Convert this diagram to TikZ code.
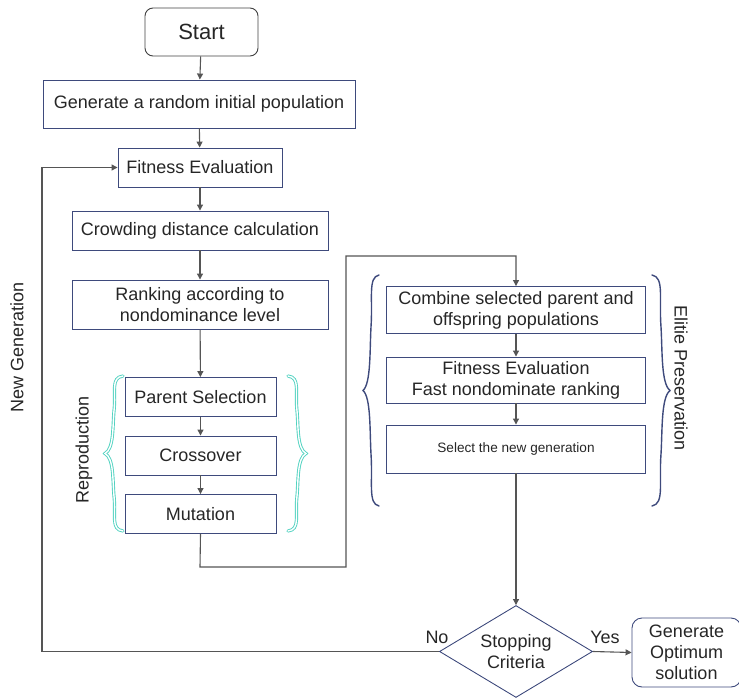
\documentclass[tikz,border=0pt]{standalone}
\usepackage{fontspec}
\setmainfont{Liberation Sans}
\usetikzlibrary{shapes.geometric,arrows.meta}
\definecolor{boxc}{HTML}{3E4A7C}
\definecolor{linec}{HTML}{555555}
\definecolor{tealc}{HTML}{4FD2C0}
\definecolor{bracec}{HTML}{3E4A7C}
% #1 style, #2 end x, #3 tip x, #4 top y, #5 bottom y
\newcommand{\curlybr}[5]{%
  \pgfmathsetmacro\cbd{#2-(#3)}%
  \pgfmathsetmacro\cbm{#3+\cbd/2}%
  \pgfmathsetmacro\cbym{(#4+#5)/2}%
  \pgfmathsetmacro\cbh{(#5-(#4))/2}%
  \draw[#1] (#2,#4) .. controls ({#2-0.7*\cbd},{#4+0.02*\cbh}) and ({\cbm+0.12*\cbd},{#4+0.2*\cbh}) .. (\cbm,{#4+0.45*\cbh})
    .. controls ({\cbm-0.08*\cbd},{\cbym-0.35*\cbh}) and ({\cbm},{\cbym-0.06*\cbh}) .. (#3,\cbym)
    .. controls ({\cbm},{\cbym+0.06*\cbh}) and ({\cbm-0.08*\cbd},{\cbym+0.35*\cbh}) .. (\cbm,{#5-0.45*\cbh})
    .. controls ({\cbm+0.12*\cbd},{#5-0.2*\cbh}) and ({#2-0.7*\cbd},{#5-0.02*\cbh}) .. (#2,#5);%
}
\begin{document}
\begin{tikzpicture}[x=1pt,y=-1pt,
  box/.style={draw=boxc, line width=0.9pt, inner sep=0pt, align=center, text=black!85,
    font=\fontsize{18}{21}\selectfont},
  conn/.style={draw=linec, line width=1.1pt, -{Triangle[length=6pt,width=6pt]}},
  lbl/.style={inner sep=0pt, text=black!85, font=\fontsize{18}{21}\selectfont},
  tealbrace/.style={draw=tealc, line width=0.9pt, double=white, double distance=1.4pt, line cap=round},
  bluebrace/.style={draw=bracec, line width=1.4pt, line cap=round}
]
\useasboundingbox (0,0) rectangle (739,698);

\node[box, draw=black!75, rounded corners=8pt, minimum width=113pt, minimum height=48pt,
  font=\fontsize{22}{26}\selectfont] (start) at (201.5,32) {Start};
\node[box, minimum width=312pt, minimum height=48pt] (gen) at (199,104) {Generate a random initial population};
\node[box, minimum width=164pt, minimum height=39pt] (fit) at (200,167.5) {Fitness Evaluation};
\node[box, minimum width=256pt, minimum height=39pt] (crowd) at (200,230.5) {Crowding distance calculation};
\node[box, minimum width=256pt, minimum height=49pt] (rank) at (200,304.5) {Ranking according to\\nondominance level};
\node[box, minimum width=151pt, minimum height=39pt] (par) at (200.5,397) {Parent Selection};
\node[box, minimum width=151pt, minimum height=39pt] (cross) at (200.5,455.5) {Crossover};
\node[box, minimum width=151pt, minimum height=39pt] (mut) at (200.5,514) {Mutation};

\node[box, minimum width=259pt, minimum height=47pt] (comb) at (516,310) {Combine selected parent and\\offspring populations};
\node[box, minimum width=259pt, minimum height=46pt] (fit2) at (516,380) {Fitness Evaluation\\Fast nondominate ranking};
\node[box, minimum width=259pt, minimum height=48pt, font=\fontsize{13.6}{16}\selectfont] (sel) at (516,449) {Select the new generation};

\node[box, diamond, aspect=1.66, minimum width=153pt, minimum height=92pt] (dia) at (516,651.5) {Stopping\\Criteria};
\node[box, rounded corners=10pt, minimum width=109pt, minimum height=69pt] (opt) at (686.5,652.5) {Generate\\Optimum\\solution};

% braces
\curlybr{tealbrace}{123}{105}{376}{531}
\curlybr{tealbrace}{288}{306}{376}{531}
\curlybr{bluebrace}{379}{363}{275}{506}
\curlybr{bluebrace}{652}{670}{275}{506}

% labels
\node[lbl, rotate=90] (ng) at (17,347) {New Generation};
\node[lbl, rotate=90] (rep) at (84,450) {Reproduction};
\node[lbl, rotate=-90] (eli) at (681,378) {Elitie Preservation};
\node[lbl] (no) at (437,637) {No};
\node[lbl] (yes) at (605,637) {Yes};

% connectors
\draw[conn] (start) -- (gen);
\draw[conn] (gen) -- (fit);
\draw[conn] (fit) -- (crowd);
\draw[conn] (crowd) -- (rank);
\draw[conn] (rank) -- (par);
\draw[conn] (par) -- (cross);
\draw[conn] (cross) -- (mut);
\coordinate (k0) at (200,567);
\coordinate (k1) at (346,256);
\draw[conn] (mut.south) -- (k0) -| (k1) -| (comb.north);
\draw[conn] (comb) -- (fit2);
\draw[conn] (fit2) -- (sel);
\draw[conn] (sel) -- (dia);
\draw[conn] (dia.east) -- (opt.west);
\coordinate (k2) at (42,651.5);
\draw[conn] (dia.west) -- (k2) |- (fit.west);
\end{tikzpicture}
\end{document}
